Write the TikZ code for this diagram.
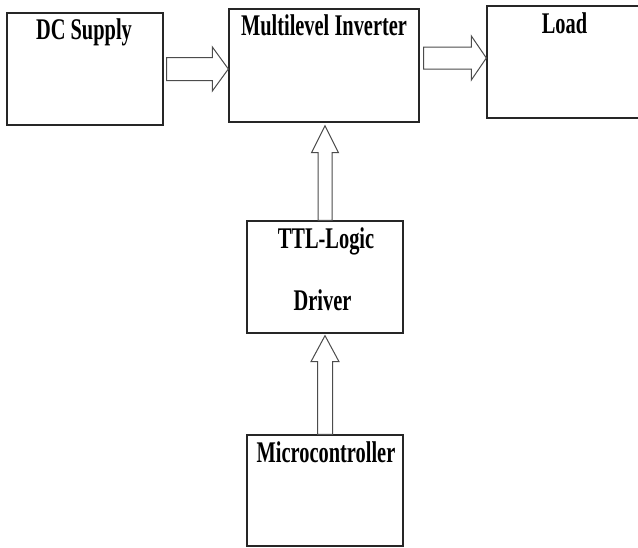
\documentclass[tikz,border=0pt]{standalone}
\usepackage{fontspec}
\setmainfont{Liberation Serif}[FakeStretch=0.68]
\usetikzlibrary{calc}

\tikzset{
  blk/.style={draw=black!85, line width=1.3pt, fill=white, inner sep=0pt},
  lbl/.style={anchor=base, inner sep=0pt, font=\fontsize{30}{32}\selectfont\bfseries},
  % hollow block arrow: #1 half shaft, #2 half head, #3 head length
  fat/.style n args={3}{draw=black!70, line width=1pt, fill=white,
    to path={
      ($(\tikztostart)!#1!90:(\tikztotarget)$)
      -- ($(\tikztotarget)!#3!(\tikztostart)!#1!-90:(\tikztostart)$)
      -- ($(\tikztotarget)!#3!(\tikztostart)!#2!-90:(\tikztostart)$)
      -- (\tikztotarget)
      -- ($(\tikztotarget)!#3!(\tikztostart)!#2!90:(\tikztostart)$)
      -- ($(\tikztotarget)!#3!(\tikztostart)!#1!90:(\tikztostart)$)
      -- ($(\tikztostart)!#1!-90:(\tikztotarget)$)
      -- cycle}}
}

\begin{document}
\begin{tikzpicture}[x=1pt, y=-1pt]
  \useasboundingbox (0,0) rectangle (638,547);
  \clip (0,0) rectangle (638,547);

  % blocks
  \node[blk, minimum width=156pt, minimum height=112pt] (dc) at (85,69) {};
  \node[blk, minimum width=190pt, minimum height=113pt] (mi) at (324,65.5) {};
  \node[blk, minimum width=163pt, minimum height=112pt] (load) at (568.5,62) {};
  \node[blk, minimum width=156pt, minimum height=112pt] (ttl) at (325,277) {};
  \node[blk, minimum width=156pt, minimum height=111pt] (micro) at (325,490.5) {};

  % texts
  \node[lbl] (dctxt) at (84,39) {DC Supply};
  \node[lbl] (mitxt) at (324,35) {Multilevel Inverter};
  \node[lbl] (loadtxt) at (564.5,33) {Load};
  \node[lbl] (ttltxt) at (326,248) {TTL-Logic};
  \node[lbl] (drvtxt) at (322.5,310) {Driver};
  \node[lbl] (microtxt) at (326,462) {Microcontroller};

  % arrow ends
  \coordinate (a1s) at ([xshift=3pt]dc.east);
  \coordinate (a1e) at (mi.west |- dc.east);
  \coordinate (a2s) at ([xshift=4pt, yshift=7.5pt]mi.east);
  \coordinate (a2e) at (load.west |- a2s);
  \coordinate (a3e) at ([yshift=-3pt]ttl.north |- mi.south);
  \coordinate (a4e) at ([yshift=-2pt]ttl.south);

  % arrows
  \draw[fat={11.5pt}{22pt}{16pt}] (a1s) to (a1e);
  \draw[fat={11pt}{22pt}{15pt}] (a2s) to (a2e);
  \draw[fat={7pt}{13.5pt}{27pt}] (ttl.north) to (a3e);
  \draw[fat={7.5pt}{14pt}{26pt}] (micro.north) to (a4e);
\end{tikzpicture}
\end{document}
